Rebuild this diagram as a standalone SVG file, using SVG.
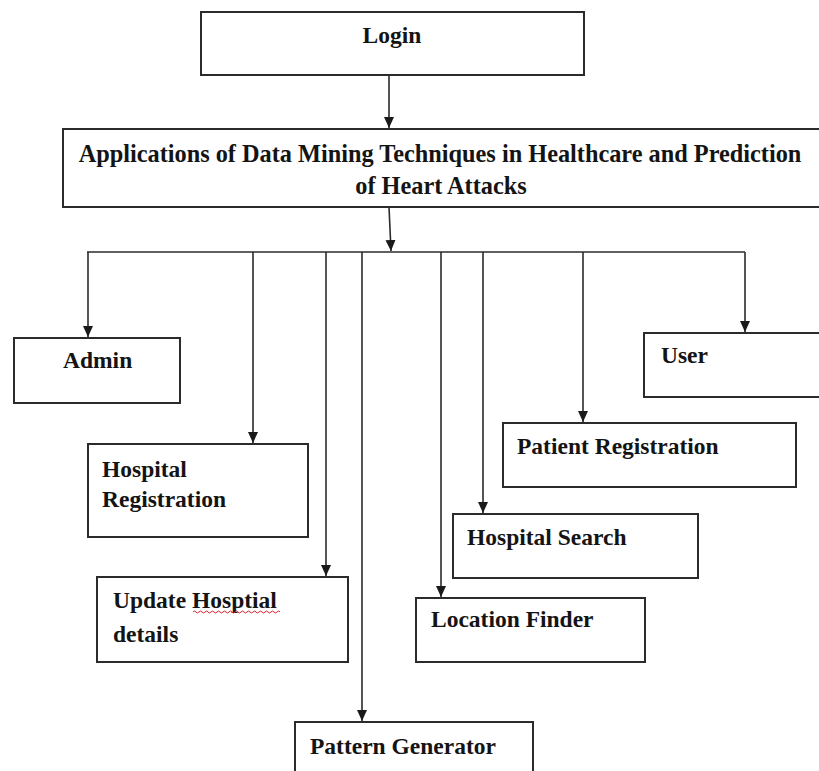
<svg xmlns="http://www.w3.org/2000/svg" width="819" height="771" viewBox="0 0 819 771">
<defs>
<marker id="ah" markerUnits="userSpaceOnUse" markerWidth="12" markerHeight="11" refX="11" refY="5" orient="auto">
<path d="M0,0 L11,5 L0,10 Z" fill="#1a1a1a"/>
</marker>
<style>
.box{fill:#fff;stroke:#2b2b2b;stroke-width:2}
.lbl{font-family:"Liberation Serif","Times New Roman",serif;font-weight:bold;font-size:23.5px;fill:#141414}
.title{font-size:24.3px;text-anchor:middle}
.con{fill:none;stroke:#2b2b2b;stroke-width:1.6}
</style>
</defs>
<rect width="819" height="771" fill="#fff"/>
<g id="login"><rect class="box" x="201" y="12" width="383" height="63"/><text class="lbl" x="392" y="43" text-anchor="middle">Login</text></g>
<g id="main"><rect class="box" x="63" y="129" width="770" height="78"/><text class="lbl title" x="440" y="162">Applications of Data Mining Techniques in Healthcare and Prediction</text><text class="lbl title" x="441" y="194">of Heart Attacks</text></g>
<g id="admin"><rect class="box" x="14" y="338" width="166" height="65"/><text class="lbl" x="63" y="368">Admin</text></g>
<g id="hospital-registration"><rect class="box" x="88" y="444" width="220" height="93"/><text class="lbl" x="102" y="477">Hospital</text><text class="lbl" x="102" y="507">Registration</text></g>
<g id="update-hospital"><rect class="box" x="97" y="577" width="251" height="85"/><text class="lbl" x="113" y="608">Update Hosptial</text><text class="lbl" x="113" y="642">details</text><path d="M193,612 q1.5,-2 3,0 t3,0 t3,0 t3,0 t3,0 t3,0 t3,0 t3,0 t3,0 t3,0 t3,0 t3,0 t3,0 t3,0 t3,0 t3,0 t3,0 t3,0 t3,0 t3,0 t3,0 t3,0 t3,0 t3,0 t3,0 t3,0 t3,0 t3,0 t3,0" fill="none" stroke="#e0202a" stroke-width="1"/></g>
<g id="pattern-generator"><rect class="box" x="295" y="722" width="238" height="80"/><text class="lbl" x="310" y="754">Pattern Generator</text></g>
<g id="location-finder"><rect class="box" x="416" y="598" width="229" height="64"/><text class="lbl" x="431" y="627">Location Finder</text></g>
<g id="hospital-search"><rect class="box" x="453" y="514" width="245" height="64"/><text class="lbl" x="467" y="545">Hospital Search</text></g>
<g id="patient-registration"><rect class="box" x="503" y="423" width="293" height="64"/><text class="lbl" x="517" y="454">Patient Registration</text></g>
<g id="user"><rect class="box" x="644" y="333" width="190" height="64"/><text class="lbl" x="661" y="363">User</text></g>
<g id="connectors">
<path class="con" d="M389,75 V128" marker-end="url(#ah)"/>
<path class="con" d="M389,207 L391,251" marker-end="url(#ah)"/>
<path class="con" d="M87,252 H745"/>
<path class="con" d="M88,252 V337" marker-end="url(#ah)"/>
<path class="con" d="M253,252 V443" marker-end="url(#ah)"/>
<path class="con" d="M326,252 V576" marker-end="url(#ah)"/>
<path class="con" d="M362,252 V721" marker-end="url(#ah)"/>
<path class="con" d="M441,252 V597" marker-end="url(#ah)"/>
<path class="con" d="M483,252 V513" marker-end="url(#ah)"/>
<path class="con" d="M583,252 V422" marker-end="url(#ah)"/>
<path class="con" d="M745,252 V332" marker-end="url(#ah)"/>
</g>
</svg>
